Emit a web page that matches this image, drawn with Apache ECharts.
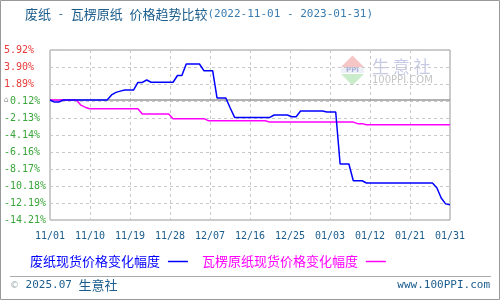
<!DOCTYPE html>
<html><head><meta charset="utf-8">
<script src="https://cdn.jsdelivr.net/npm/echarts@6/dist/echarts.min.js"></script>
<style>html,body{margin:0;padding:0;background:#fff}#c{width:500px;height:300px}</style>
</head><body><div id="c"></div>
<script>
// ---- data ----
const titleParts = ['废纸', ' - ', '瓦楞原纸', ' ', '价格趋势比较'];
const titleRange = '(2022-11-01 - 2023-01-31)';
const seriesNames = ['废纸现货价格变化幅度', '瓦楞原纸现货价格变化幅度'];
const xTickLabels = ['11/01','11/10','11/19','11/28','12/07','12/16','12/25','01/03','01/12','01/21','01/31'];
const yTickLabels = ['-14.21%','-12.19%','-10.18%','-8.17%','-6.16%','-4.14%','-2.13%','0.12%','1.89%','3.90%','5.92%'];
const yMin = -14.21, yMax = 5.92;
const dayCount = 91; // days from 2022-11-01 to 2023-01-31
// daily change (%) 2022-11-01 .. 2023-01-31
const wastePaper = [
  0, -0.25, -0.25, 0, 0, 0, 0, 0, 0, 0, 0, 0, 0, 0,
  0.6, 0.9, 1.05, 1.18, 1.18, 1.18, 2.08, 2.08, 2.37,
  2.1, 2.1, 2.1, 2.1, 2.1, 2.1, 2.9, 2.9,
  4.26, 4.26, 4.26, 4.26, 3.47, 3.47, 3.47, 0.24, 0.24, 0.24, -0.95,
  -2.06, -2.06, -2.06, -2.06, -2.06, -2.06, -2.06, -2.06, -2.06,
  -1.78, -1.78, -1.78, -1.78, -1.98, -1.98,
  -1.30, -1.30, -1.30, -1.30, -1.30, -1.30, -1.42, -1.42, -1.42,
  -7.58, -7.58, -7.58, -9.56, -9.56, -9.56,
  -9.83, -9.83, -9.83, -9.83, -9.83, -9.83, -9.83, -9.83,
  -9.83, -9.83, -9.83, -9.83, -9.83, -9.83, -9.83, -9.83,
  -10.4, -11.6, -12.3, -12.4
];
const corrugated = [
  0, 0, 0, 0, 0, 0, 0, -0.6, -0.85,
  -1.03, -1.03, -1.03, -1.03, -1.03, -1.03, -1.03, -1.03, -1.03, -1.03, -1.03, -1.03,
  -1.66, -1.66, -1.66, -1.66, -1.66, -1.66, -1.66,
  -2.21, -2.21, -2.21, -2.21, -2.21, -2.21, -2.21, -2.21,
  -2.45, -2.45, -2.45, -2.45, -2.45, -2.45, -2.45, -2.45, -2.45, -2.45, -2.45, -2.45, -2.45, -2.45,
  -2.62, -2.62, -2.62, -2.62, -2.62, -2.62, -2.62, -2.62, -2.62, -2.62,
  -2.62, -2.62, -2.62, -2.62, -2.62, -2.62, -2.62, -2.62, -2.62, -2.62,
  -2.8, -2.8,
  -2.92, -2.92, -2.92, -2.92, -2.92, -2.92, -2.92, -2.92, -2.92, -2.92,
  -2.92, -2.92, -2.92, -2.92, -2.92, -2.92, -2.92, -2.92, -2.92, -2.92
];
const seriesColors = ['#0000ff', '#ff00ff'];

// ---- chart ----
const chart = echarts.init(document.getElementById('c'), null, {renderer: 'canvas'});
const xStep = dayCount / (xTickLabels.length - 1);
const yStep = (yMax - yMin) / (yTickLabels.length - 1);
const mono = 'DejaVu Sans Mono';
const cjk = 'Noto Sans CJK SC';
const titleText = titleParts.map((p, i) => (i % 2 ? '{s|' : '{a|') + p + '}').join('') + '{b|' + titleRange + '}';

chart.setOption({
  animation: false,
  backgroundColor: '#fff',
  title: {
    left: 25, top: 8, padding: 0,
    text: titleText,
    textStyle: {
      fontWeight: 'normal',
      rich: {
        a: {fontFamily: cjk, fontSize: 13, color: '#1b5d8c', fontWeight: 'normal'},
        s: {fontFamily: mono, fontSize: 11, color: '#1b5d8c', fontWeight: 'normal'},
        b: {fontFamily: mono, fontSize: 11, color: '#3a7cb0', fontWeight: 'normal'}
      }
    }
  },
  grid: {left: 50, right: 50, top: 50, bottom: 80, show: true, borderColor: '#999', borderWidth: 1, outerBoundsMode: 'none'},
  legend: {
    left: 25, top: 250, align: 'right', icon: 'rect', itemWidth: 20, itemHeight: 1.5, itemGap: 14,
    formatter: n => n + ' ',
    textStyle: {fontFamily: cjk, fontSize: 13},
    data: [
      {name: seriesNames[0], textStyle: {color: seriesColors[0]}},
      {name: seriesNames[1], textStyle: {color: seriesColors[1]}}
    ]
  },
  xAxis: {
    type: 'value', min: 0, max: dayCount, interval: xStep,
    axisLine: {show: false}, axisTick: {show: false},
    splitLine: {show: true, lineStyle: {color: '#c8c8c8', type: [3, 3], width: 1}},
    axisLabel: {
      margin: 11, fontFamily: mono, fontSize: 10, color: '#1b5d8c',
      showMinLabel: true, showMaxLabel: true,
      formatter: v => xTickLabels[Math.round(v / xStep)]
    }
  },
  yAxis: [
    {type: 'value', min: yMin, max: yMax, show: false, splitLine: {show: false}},
    {
      type: 'value', min: 0, max: yTickLabels.length - 1, interval: 1, position: 'left',
      axisLine: {show: false}, axisTick: {show: false},
      splitLine: {show: true, lineStyle: {color: '#c8c8c8', type: [3, 3], width: 1}},
      axisLabel: {
        align: 'left', margin: 46, fontFamily: mono, fontSize: 10,
        formatter: v => {
          const i = Math.round(v);
          const tv = yMin + i * yStep;
          const lab = yTickLabels[i];
          if (tv > 0) return '{r|' + lab + '}';
          if (lab.charAt(0) !== '-') return '{ic|⌂}{g|' + lab + '}';
          return '{g|' + lab + '}';
        },
        rich: {
          r: {color: '#e83a3a', fontFamily: mono, fontSize: 10},
          g: {color: '#3aa53a', fontFamily: mono, fontSize: 10},
          ic: {color: '#999', fontFamily: 'DejaVu Sans', fontSize: 8, padding: [0, 1, 2, 0]}
        }
      }
    }
  ],
  series: [
    {
      name: seriesNames[1], type: 'line', yAxisIndex: 0, showSymbol: false, z: 3,
      data: corrugated.map((v, i) => [i, v]),
      lineStyle: {color: seriesColors[1], width: 1.5}, itemStyle: {color: seriesColors[1]},
      markLine: {silent: true, symbol: 'none', label: {show: false}, z: 1,
        lineStyle: {color: '#999', type: 'solid', width: 1.5}, data: [{yAxis: 0}]}
    },
    {
      name: seriesNames[0], type: 'line', yAxisIndex: 0, showSymbol: false, z: 4,
      data: wastePaper.map((v, i) => [i, v]),
      lineStyle: {color: seriesColors[0], width: 1.5}, itemStyle: {color: seriesColors[0]}
    }
  ],
  graphic: [
    {type: 'rect', silent: true, z: 100, shape: {x: 0.5, y: 0.5, width: 499, height: 299}, style: {fill: 'none', stroke: '#999', lineWidth: 1}},
    {type: 'line', silent: true, shape: {x1: 10, y1: 276.5, x2: 491, y2: 276.5}, style: {stroke: '#aaa', lineWidth: 1}},
    {type: 'text', silent: true, x: 10, y: 285.5, style: {
      text: '{c|©}{d| 2025.07 }{e|生意社}', textVerticalAlign: 'middle', verticalAlign: 'middle',
      rich: {
        c: {fill: '#9aa', fontFamily: 'DejaVu Sans', fontSize: 9},
        d: {fill: '#1b5d8c', fontFamily: mono, fontSize: 11},
        e: {fill: '#1b5d8c', fontFamily: cjk, fontSize: 13}
      }}},
    {type: 'text', silent: true, x: 490, y: 285.5, style: {
      text: 'www.100PPI.com', fill: '#1b5d8c', font: '11px "DejaVu Sans Mono"',
      textAlign: 'right', align: 'right', textVerticalAlign: 'middle', verticalAlign: 'middle'}},
    // watermark logo
    {type: 'group', silent: true, z: 0, children: [
      {type: 'polygon', shape: {points: [[352.5, 55.5], [341, 67], [364, 67]]}, style: {fill: '#f6c6c6'}},
      {type: 'rect', shape: {x: 341, y: 67, width: 23, height: 6}, style: {fill: '#eef0f8'}},
      {type: 'text', x: 352.5, y: 70, style: {text: 'PPI', fill: '#a9b1d6', font: 'bold 7px "DejaVu Sans"', textAlign: 'center', align: 'center', textVerticalAlign: 'middle', verticalAlign: 'middle'}},
      {type: 'polygon', shape: {points: [[341, 74], [364, 74], [352.5, 85.5]]}, style: {fill: '#cbeccb'}},
      {type: 'text', x: 372, y: 67, style: {text: '生 意 社', fill: '#c6cae4', font: '17px "Noto Sans CJK SC"', textVerticalAlign: 'middle', verticalAlign: 'middle'}},
      {type: 'text', x: 372, y: 80, style: {text: '100PPI.COM', fill: '#c4c4c4', font: '10px "DejaVu Sans"', textVerticalAlign: 'middle', verticalAlign: 'middle'}}
    ]}
  ]
});
</script>
</body></html>
